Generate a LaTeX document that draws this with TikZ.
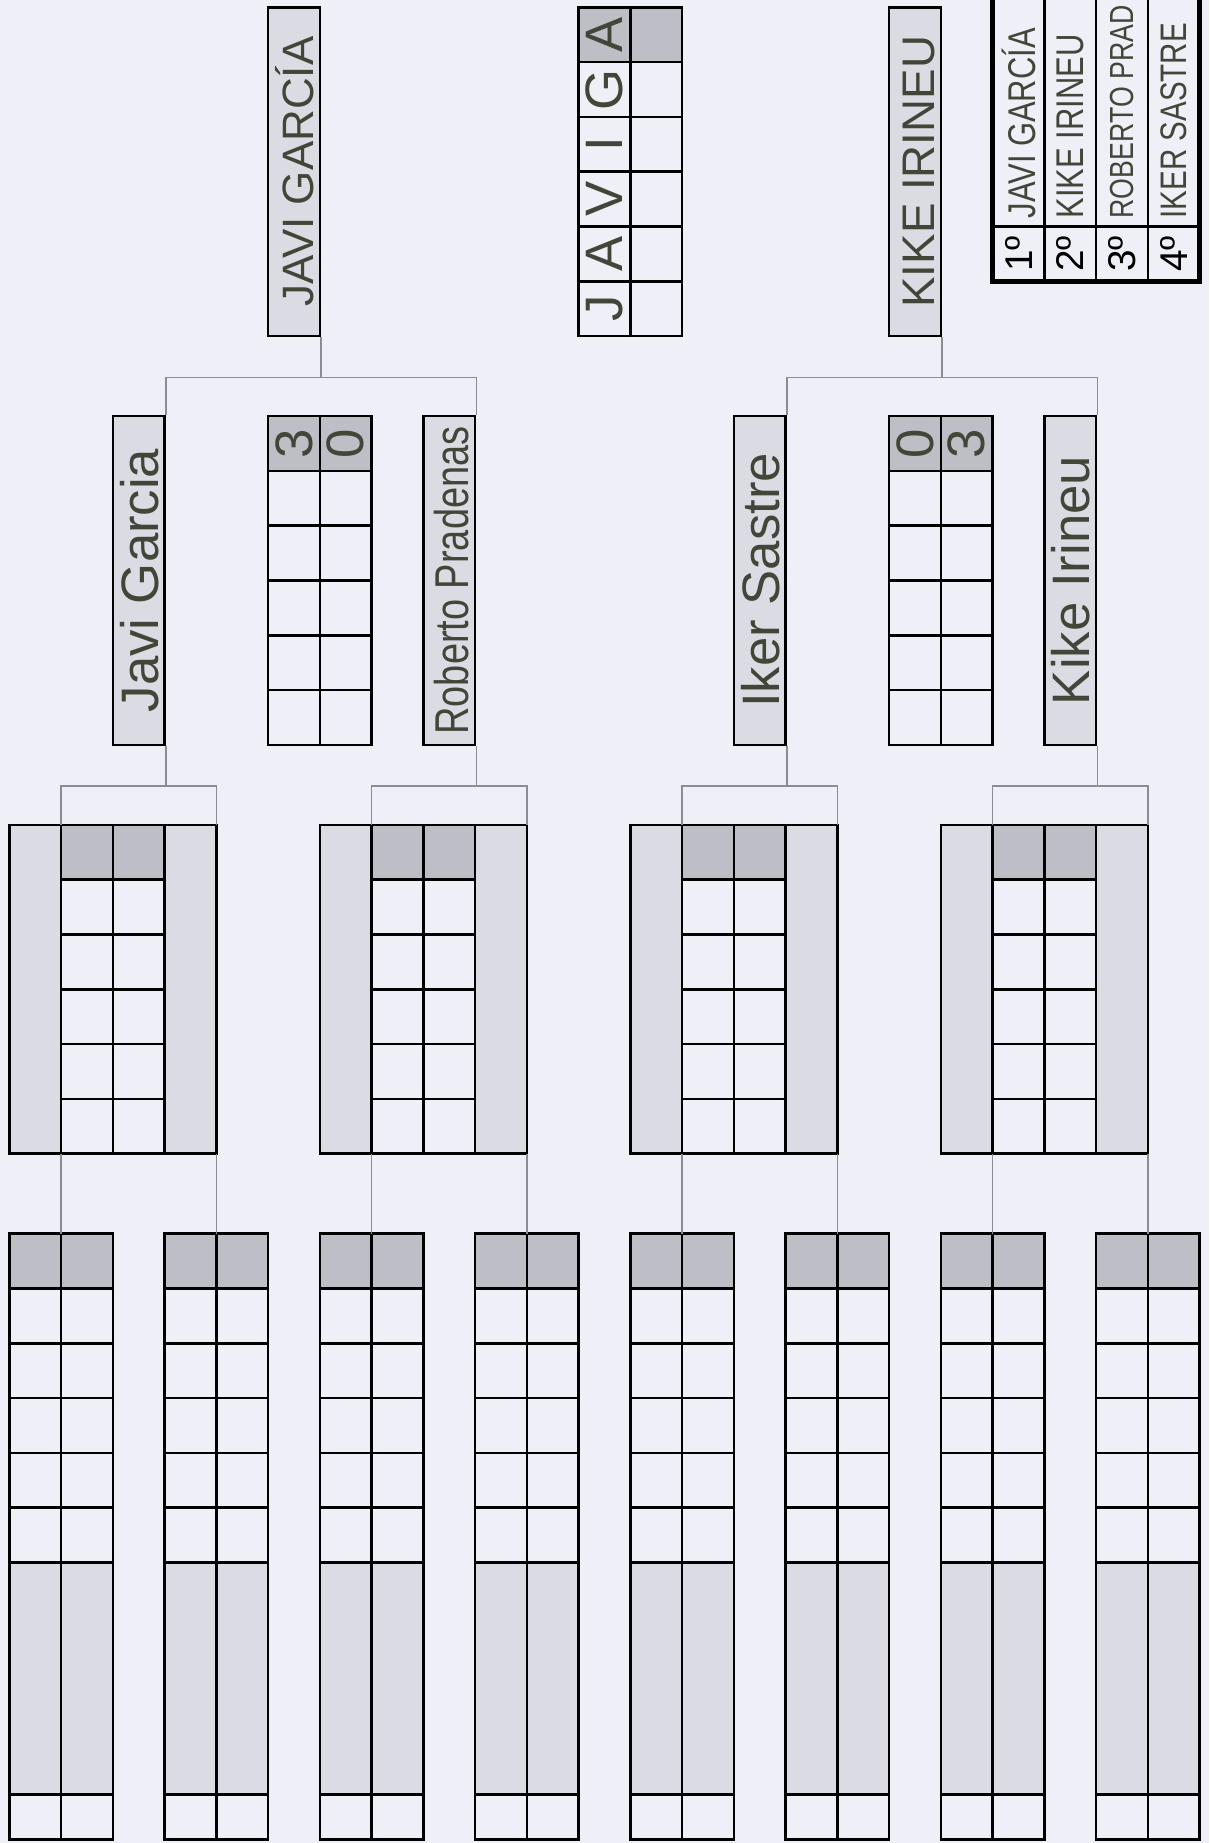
\documentclass[tikz,border=0pt]{standalone}
\usepackage{fontspec}
\setmainfont{Liberation Sans}
\newfontfamily\narrowfont[FakeStretch=0.8]{Liberation Sans}

\definecolor{paper}{RGB}{239,239,247}
\definecolor{lightshade}{RGB}{219,219,227}
\definecolor{darkshade}{RGB}{190,190,198}
\definecolor{ink}{RGB}{66,70,56}
\definecolor{linkgray}{RGB}{140,140,148}

\begin{document}
\begin{tikzpicture}[
  x=5.175mm, y=-0.1mm,
  cell/.style={draw=black, line width=0.7pt},
  namebox/.style={
    draw=black, line width=0.7pt, fill=lightshade, rectangle, rotate=90,
    minimum width=32.88mm, minimum height=5.175mm, inner sep=0pt,
    text height=11pt, text depth=0pt, text=ink,
    font=\fontsize{15}{15}\selectfont
  },
  hand/.style={text=ink, rotate=90, inner sep=0pt, font=\fontsize{15}{15}\selectfont},
  rankname/.style={hand, anchor=west, font=\narrowfont\fontsize{11}{11}\selectfont},
  printed/.style={rotate=90, inner sep=0pt, font=\fontsize{11}{11}\selectfont},
  link/.style={draw=linkgray, line width=0.4pt},
]

\fill[paper] (-0.1816,0) rectangle (23.1816,1843);
\useasboundingbox (-0.1816,0) rectangle (23.1816,1843);
\clip (-0.1816,0) rectangle (23.1816,1843);

% first round
\foreach \k in {0,3,...,21} {
  \fill[darkshade] (\k,1233.7) rectangle (\k+2,1288.5);
  \fill[lightshade] (\k,1562.5) rectangle (\k+2,1794.3);
  \foreach \y in {1288.5,1343.3,1398.1,1452.9,1507.7,1562.5,1794.3}
    \draw[cell] (\k,\y) -- (\k+2,\y);
  \draw[cell] (\k+1,1233.7) -- (\k+1,1839.3);
  \draw[cell] (\k,1233.7) rectangle (\k+2,1839.3);
}

% quarter finals
\foreach \k in {0,6,12,18} {
  \fill[lightshade] (\k,824.9) rectangle (\k+1,1153.7);
  \fill[lightshade] (\k+3,824.9) rectangle (\k+4,1153.7);
  \fill[darkshade] (\k+1,824.9) rectangle (\k+3,879.7);
  \foreach \y in {879.7,934.5,989.3,1044.1,1098.9}
    \draw[cell] (\k+1,\y) -- (\k+3,\y);
  \foreach \c in {1,2,3}
    \draw[cell] (\k+\c,824.9) -- (\k+\c,1153.7);
  \draw[cell] (\k,824.9) rectangle (\k+4,1153.7);
}

% score tables (semis, final)
\foreach \k/\t in {5/416.1, 17/416.1, 11/7.3} {
  \fill[darkshade] (\k,\t) rectangle (\k+2,\t+54.8);
  \foreach \r in {1,...,5}
    \draw[cell] (\k,\t+54.8*\r) -- (\k+2,\t+54.8*\r);
  \draw[cell] (\k+1,\t) -- (\k+1,\t+328.8);
  \draw[cell] (\k,\t) rectangle (\k+2,\t+328.8);
}

% name boxes
\node[namebox] (sA) at (2.5,580.5) {Javi Garcia};
\node[namebox, font=\narrowfont\fontsize{13.5}{13.5}\selectfont] (sB) at (8.5,580.5) {Roberto Pradenas};
\node[namebox] (sC) at (14.5,580.5) {Iker Sastre};
\node[namebox] (sD) at (20.5,580.5) {Kike Irineu};
\node[namebox, font=\fontsize{12.5}{12.5}\selectfont] (fA) at (5.5,171.7) {JAVI GARCÍA};
\node[namebox, font=\fontsize{13}{13}\selectfont] (fB) at (17.5,171.7) {KIKE IRINEU};

% results
\node[hand] (scA1) at (5.5,443.5) {3};
\node[hand] (scA2) at (6.5,443.5) {0};
\node[hand] (scB1) at (17.5,443.5) {0};
\node[hand] (scB2) at (18.5,443.5) {3};
\foreach \ch [count=\i from 0] in {A,G,I,V,A,J}
  \node[hand] (fl\i) at (11.5,{34.7+54.8*\i}) {\ch};

% ranking
\draw[cell] (19,226.5) -- (23,226.5);
\foreach \c in {20,21,22}
  \draw[cell] (\c,-50) -- (\c,281.3);
\draw[line width=1.4pt] (19,-50) rectangle (23,281.3);
\foreach \n [count=\i from 0] in {1º,2º,3º,4º}
  \node[printed] (pos\i) at (19.5+\i,254) {\n};
\node[rankname] (rk0) at (19.5,219) {JAVI GARCÍA};
\node[rankname] (rk1) at (20.5,219) {KIKE IRINEU};
\node[rankname, font=\narrowfont\fontsize{9.5}{9.5}\selectfont] (rk2) at (21.5,219) {ROBERTO PRAD};
\node[rankname, font=\narrowfont\fontsize{10.5}{10.5}\selectfont] (rk3) at (22.5,219) {IKER SASTRE};

% connectors
\foreach \i in {0,...,7} {
  \coordinate (qt\i) at ({3*\i+1},824.9);
  \coordinate (qb\i) at ({3*\i+1},1153.7);
  \coordinate (rt\i) at ({3*\i+1},1233.7);
}
\draw[link] (fA.south west) -- ++(0,40) coordinate (jA);
\draw[link] (sA.south east) |- (jA) -| (sB.south east);
\draw[link] (fB.south west) -- ++(0,40) coordinate (jB);
\draw[link] (sC.south east) |- (jB) -| (sD.south east);
\foreach \s/\a/\b in {sA/0/1, sB/2/3, sC/4/5, sD/6/7} {
  \draw[link] (\s.south west) -- ++(0,40) coordinate (j\s);
  \draw[link] (qt\a) |- (j\s) -| (qt\b);
}
\foreach \i in {0,...,7}
  \draw[link] (qb\i) -- (rt\i);

\end{tikzpicture}
\end{document}
